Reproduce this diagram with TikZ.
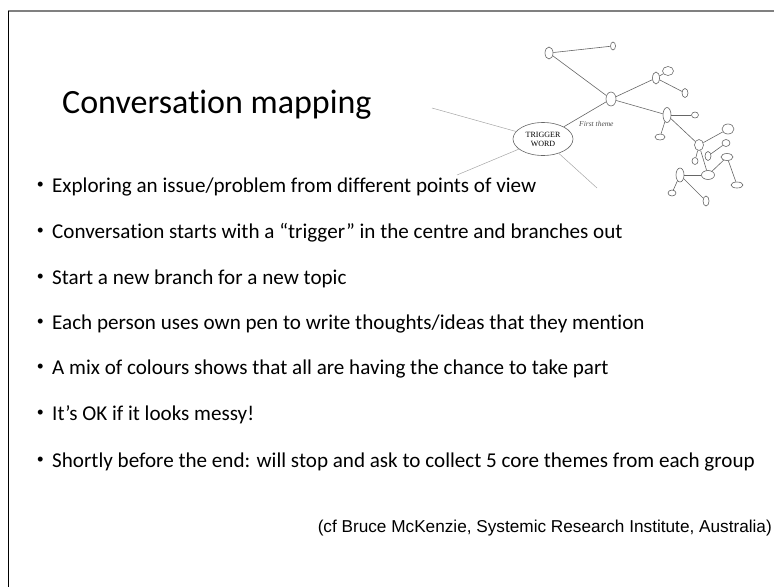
\documentclass[tikz,border=0pt]{standalone}
\usepackage{fontspec}
\setmainfont[Ligatures=NoCommon]{Carlito}
\newfontfamily\arialfont{Liberation Sans}
\newfontfamily\timesfont{Liberation Serif}
\usetikzlibrary{shapes.geometric,positioning}

\begin{document}
\begin{tikzpicture}[x=1pt,y=-1pt,
	blob/.style={draw=gray!80!black,fill=white,ellipse,inner sep=0pt,line width=0.6pt},
	link/.style={gray!80!black,line width=0.6pt},
	faint/.style={gray!70,line width=0.5pt},
	bullet/.style={anchor=base west,inner sep=0pt,font=\fontsize{21.1}{23}\selectfont},
	dot/.style={anchor=base east,inner sep=0pt,font=\fontsize{14}{16}\selectfont},
]
	\useasboundingbox (0,0) rectangle (774,587);
%	slide frame
	\draw[gray,line width=1.5pt] (8,11) -- (774,11);
	\draw[black,line width=1pt] (8,11) -- (8,587);

	\node[anchor=base west,inner sep=0pt,font=\fontsize{34}{36}\selectfont] (title) at (62,113) {Conversation mapping};

	% the map
	\node[blob,minimum width=60,minimum height=33,align=center,font=\timesfont\fontsize{8}{9}\selectfont] (trig) at (543,139) {TRIGGER\\WORD};
	\coordinate (t1) at (432,108);
	\coordinate (t2) at (457,175);
	\coordinate (t3) at (597,188);
	\draw[faint] (trig) -- (t1);
	\draw[faint] (trig) -- (t2);
	\draw[faint] (trig) -- (t3);

	\node[blob,minimum width=10,minimum height=14] (a) at (611,99) {};
	\node[blob,minimum width=8,minimum height=12] (b) at (549,53) {};
	\node[blob,minimum width=5,minimum height=8] (c) at (613,46) {};
	\node[blob,minimum width=7,minimum height=12] (d) at (656,78) {};
	\node[blob,minimum width=11,minimum height=9] (d1) at (668,71) {};
	\node[blob,minimum width=6,minimum height=9] (d2) at (685,93) {};
	\node[blob,minimum width=8,minimum height=15] (e) at (667,115) {};
	\node[blob,minimum width=7,minimum height=6] (e1) at (695,115) {};
	\node[blob,minimum width=10,minimum height=6] (e2) at (660,137) {};
	\node[blob,minimum width=9,minimum height=11] (f) at (699,145) {};
	\node[blob,minimum width=12,minimum height=10] (f1) at (728,129) {};
	\node[blob,minimum width=8,minimum height=7] (f2) at (726,143) {};
	\node[blob,minimum width=6,minimum height=9] (g) at (708,156) {};
	\node[blob,minimum width=6,minimum height=7] (f3) at (695,161) {};
	\node[blob,minimum width=13,minimum height=9] (h) at (708,175) {};
	\node[blob,minimum width=12,minimum height=7] (h1) at (727,157) {};
	\node[blob,minimum width=12,minimum height=6] (h2) at (737,185) {};
	\node[blob,minimum width=8,minimum height=14] (i) at (680,175) {};
	\node[blob,minimum width=8,minimum height=6] (i1) at (672,193) {};
	\node[blob,minimum width=6,minimum height=10] (i2) at (706,201) {};

	\draw[link] (trig) -- (a);
	\draw[link] (a) -- (b);
	\draw[link] (b) -- (c);
	\draw[link] (a) -- (d);
	\draw[link] (d) -- (d1);
	\draw[link] (d) -- (d2);
	\draw[link] (a) -- (e);
	\draw[link] (e) -- (e1);
	\draw[link] (e) -- (e2);
	\draw[link] (e) -- (f);
	\draw[link] (f) -- (f1);
	\draw[link] (g) -- (f2);
	\draw[link] (f) -- (f3);
	\draw[link] (f) -- (h);
	\draw[link] (h) -- (h1);
	\draw[link] (h1) -- (h2);
	\draw[link] (i) -- (h);
	\draw[link] (i) -- (i1);
	\draw[link] (i) -- (i2);

	\node[anchor=west,inner sep=0pt,text=gray!60!black,font=\timesfont\itshape\fontsize{7.5}{8}\selectfont] (first) at (579,124) {First theme};

	% bullet points
	\node[bullet] (p1) at (52,192) {Exploring an issue/problem from different points of view};
	\node[bullet] (p2) at (52,238) {Conversation starts with a “trigger” in the centre and branches out};
	\node[bullet] (p3) at (52,284) {Start a new branch for a new topic};
	\node[bullet] (p4) at (52,329) {Each person uses own pen to write thoughts/ideas that they mention};
	\node[bullet] (p5) at (52,374) {A mix of colours shows that all are having the chance to take part};
	\node[bullet] (p6) at (52,420) {It’s OK if it looks messy!};
	\node[bullet] (p7) at (52,467) {Shortly before the end: will stop and ask to collect 5 core themes from each group};
	\node[dot] at ([xshift=-8pt,yshift=4pt]p1.base west) {•};
	\node[dot] at ([xshift=-8pt,yshift=4pt]p2.base west) {•};
	\node[dot] at ([xshift=-8pt,yshift=4pt]p3.base west) {•};
	\node[dot] at ([xshift=-8pt,yshift=4pt]p4.base west) {•};
	\node[dot] at ([xshift=-8pt,yshift=4pt]p5.base west) {•};
	\node[dot] at ([xshift=-8pt,yshift=4pt]p6.base west) {•};
	\node[dot] at ([xshift=-8pt,yshift=4pt]p7.base west) {•};

	\node[anchor=base east,inner sep=0pt,font=\arialfont\fontsize{17.2}{19}\selectfont] (cite) at (772,532) {(cf Bruce McKenzie, Systemic Research Institute, Australia)};
\end{tikzpicture}
\end{document}
